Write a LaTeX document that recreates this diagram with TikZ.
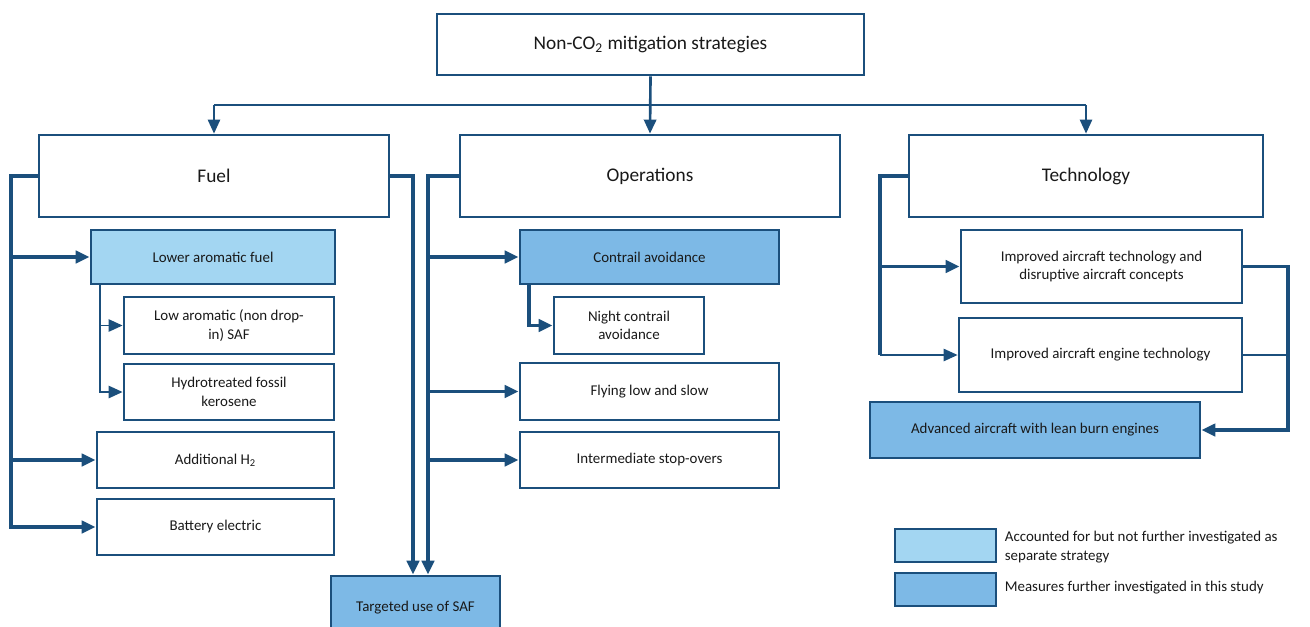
\documentclass[tikz,border=0pt]{standalone}
\usepackage{fontspec}
\setmainfont{Carlito}
\usetikzlibrary{positioning,arrows.meta}
\definecolor{navy}{HTML}{1B4F7C}
\definecolor{paleblue}{HTML}{A3D6F2}
\definecolor{midblue}{HTML}{7DB9E6}
\begin{document}
\begin{tikzpicture}[x=0.02cm, y=-0.02cm,
    box/.style={draw=navy, line width=1.6pt, inner sep=2pt, align=center, fill=white, text=black!90},
    head/.style={box, font=\fontsize{11}{13}\selectfont, minimum height=1.64cm},
    item/.style={box, font=\fontsize{8.5}{10.5}\selectfont},
    note/.style={font=\fontsize{8.5}{10.5}\selectfont, align=left, anchor=west, inner sep=2pt, text=black!90},
    link/.style={draw=navy, line width=1.1pt},
    trunk/.style={draw=navy, line width=2.1pt},
    arr/.style={-{Triangle[length=8pt,width=7pt]}}]

    \useasboundingbox (0,0) rectangle (1310,626);
    \clip (0,0) rectangle (1310,626);

    \node[head, minimum width=8.54cm, minimum height=1.22cm] (top) at (650.5,44.5) {Non-CO\textsubscript{2} mitigation strategies};

    \node[head, minimum width=7cm]    (fuel) at (214,176)  {Fuel};
    \node[head, minimum width=7.6cm]  (ops)  at (650,176)  {Operations};
    \node[head, minimum width=7.08cm] (tech) at (1086,176) {Technology};

    \node[item, fill=paleblue, minimum width=4.88cm, minimum height=1.08cm] (lowarom) at (213,257) {Lower aromatic fuel};
    \node[item, minimum width=4.2cm, minimum height=1.14cm]  (lasaf)   at (229,325.5) {Low aromatic (non drop-\\in) SAF};
    \node[item, minimum width=4.2cm, minimum height=1.12cm]  (hydro)   at (229,392)   {Hydrotreated fossil\\kerosene};
    \node[item, minimum width=4.74cm, minimum height=1.12cm] (addh2)   at (215.5,460) {Additional H\textsubscript{2}};
    \node[item, minimum width=4.74cm, minimum height=1.12cm] (battery) at (215.5,527) {Battery electric};
    \node[item, fill=midblue, minimum width=3.38cm, minimum height=1.28cm] (saf) at (415.5,608) {Targeted use of SAF};

    \node[item, fill=midblue, minimum width=5.18cm, minimum height=1.08cm] (contrail) at (649.5,257) {Contrail avoidance};
    \node[item, minimum width=3cm, minimum height=1.14cm]    (night)    at (629,325.5)   {Night contrail\\avoidance};
    \node[item, minimum width=5.18cm, minimum height=1.14cm] (flying)   at (649.5,391.5) {Flying low and slow};
    \node[item, minimum width=5.18cm, minimum height=1.12cm] (stopover) at (649.5,460)   {Intermediate stop-overs};

    \node[item, minimum width=5.62cm, minimum height=1.46cm] (imptech)  at (1101.5,266.5) {Improved aircraft technology and\\disruptive aircraft concepts};
    \node[item, minimum width=5.66cm, minimum height=1.48cm] (engine)   at (1100.5,355)   {Improved aircraft engine technology};
    \node[item, fill=midblue, minimum width=6.6cm, minimum height=1.12cm] (advanced) at (1035,430) {Advanced aircraft with lean burn engines};

    \node[box, fill=paleblue, minimum width=2.02cm, minimum height=0.66cm] (legpale) at (945.5,545.5) {};
    \node[box, fill=midblue, minimum width=2.02cm, minimum height=0.66cm]  (legmid)  at (945.5,589.5) {};
    \node[note] (legpaletxt) at (1001,547) {Accounted for but not further investigated as\\separate strategy};
    \node[note] (legmidtxt)  at (1001,588) {Measures further investigated in this study};

    \coordinate (busl) at (214,105);
    \coordinate (busr) at (1086,105);
    \draw[link, line width=1.5pt, arr] (top.south) -- (ops.north);
    \draw[link] (busl) -- (busr);
    \draw[link, arr] (busl) -- (fuel.north);
    \draw[link, arr] (busr) -- (tech.north);

    \coordinate (fl) at (11,176);
    \draw[trunk, arr] (fuel.west) -- (fl) |- (battery.west);
    \draw[trunk, arr] (fl |- lowarom.west) -- (lowarom.west);
    \draw[trunk, arr] (fl |- addh2.west) -- (addh2.west);

    \coordinate (ls) at (100,284);
    \draw[link, arr] (ls) |- (hydro.west);
    \draw[link, arr] (ls |- lasaf.west) -- (lasaf.west);

    \coordinate (fr) at (413,176);
    \draw[trunk, arr] (fuel.east) -- (fr) -- (fr |- saf.north);

    \coordinate (ol) at (428,176);
    \draw[trunk, arr] (ops.west) -- (ol) -- (ol |- saf.north);
    \draw[trunk, arr] (ol |- contrail.west) -- (contrail.west);
    \draw[trunk, arr] (ol |- flying.west) -- (flying.west);
    \draw[trunk, arr] (ol |- stopover.west) -- (stopover.west);

    \coordinate (cs) at (529,284);
    \draw[trunk, arr] (cs) |- (night.west);

    \coordinate (tl) at (880,176);
    \draw[trunk] (tech.west) -- (tl) -- (tl |- engine.west);
    \draw[trunk, arr] (tl |- imptech.west) -- (imptech.west);
    \draw[link, arr] (tl |- engine.west) -- (engine.west);

    \coordinate (tr) at (1288,266.5);
    \draw[trunk, arr] (imptech.east) -- (tr) |- (advanced.east);
    \draw[link] (engine.east) -- (tr |- engine.east);
\end{tikzpicture}
\end{document}
